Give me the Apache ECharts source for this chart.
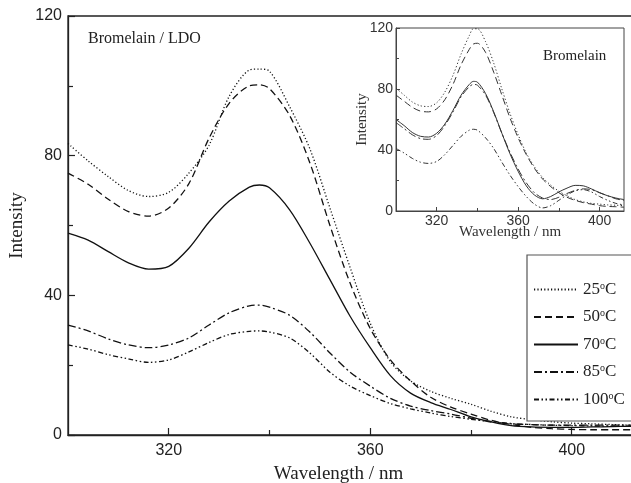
<!DOCTYPE html>
<html><head><meta charset="utf-8">
<script src="https://cdn.jsdelivr.net/npm/echarts@6/dist/echarts.min.js"></script>
<style>html,body{margin:0;padding:0;background:#fff}#c{width:631px;height:483px}</style>
</head><body><div id="c"></div>
<script>
// shared wavelength grid (nm)
const wavelengths = [300,304,308,312,316,320,324,328,332,336,338,340,344,348,352,356,360,364,368,372,376,380,384,388,392,396,400,404,408,412];

// main panel: Bromelain / LDO
const main25  = [83.5,78.5,74,70,68.3,69.5,75,83,97,104.5,104.8,104.2,94,82,65,48,32,21,15.5,12.5,10.5,8.8,6.8,5.2,4.4,3.8,3.4,3.2,3,2.8];
const main50  = [75,71.8,67.5,64,62.7,65,72,85,95,100,100.3,99.2,91.5,78,60,43.5,30.5,21.5,15.5,10.8,8,6,4.2,3,2.2,1.8,1.6,1.5,1.5,1.5];
const main70  = [57.8,55.8,52.5,49.3,47.5,48.3,53.5,61,67,71,71.6,70.8,64.5,55,44.5,34,25,17,12,9.3,7.3,5.2,3.8,2.7,2.3,2.2,2.2,2.3,2.4,2.5];
const main85  = [31.5,29.8,27.5,25.8,25,25.8,27.8,31.5,35,37,37.2,36.6,34.3,29.5,23.5,18,14,10.5,8.3,7,6,4.8,3.8,3.2,3,2.8,2.8,2.8,2.8,2.8];
const main100 = [25.8,24.6,23,21.8,20.8,21.5,23.8,26.5,28.8,29.7,29.8,29.5,27.8,23.5,18,14,11.3,9,7.5,6.3,5.3,4.5,3.8,3.3,3,2.8,2.7,2.6,2.5,2.5];

// inset: Bromelain
const inset25  = [80.5,76,71.5,69,68.5,71,78,89,103,115,119.5,119.5,111,97,80,64,50,38,29,22,17,13,10,7.5,6,5,4.5,4,3.8,3.5];
const inset50  = [76,72,68,65.5,65,67,73,83,96,106,109.5,110,104,91,76,61,48,37,28,21,16,12,9,7,5.5,4.5,3.5,3,2.8,2.5];
const inset70  = [60,56,51.5,49,48.5,51,57,66,76,83,85,84.5,77,65,51,37.5,26,16.5,10.5,8,9.5,12.5,15,16.8,16.5,14.5,12,10,8.5,7.5];
const inset85  = [58,54,50,47.5,47,49.5,56,65,75,81.5,83,82.5,76,64.5,51,38.5,27.5,18.5,12,8.5,7.5,9,11.5,13.5,14.5,14,12,10,8,7];
const inset100 = [41,38,34.5,32,31.2,32.5,37,43,49,53,53.6,53,48,41,32,23.5,16,9.5,4.5,2,3.5,7,10.5,13.2,14,12.5,9.5,7,5,4];

const seriesNames = ['25','50','70','85','100'];
const xMajorTicks = [320,360,400];
const xMinorTicks = [340,380];
const yTickInterval = 40;

const SANS = "'Liberation Sans', Arial, sans-serif";
const SERIF = "'Liberation Serif', 'Times New Roman', serif";

const dashTypes = [[1.2,2.2],[7,4],'solid',[8,3,2,3],[5,2.5,1.5,2.5,1.5,2.5]];
const mainData = [main25, main50, main70, main85, main100];
const insetData = [inset25, inset50, inset70, inset85, inset100];

const pairs = d => wavelengths.map((w,i)=>[w,d[i]]);

const series = [];
mainData.forEach((d,i)=>{
  series.push({type:'line', name:seriesNames[i], xAxisIndex:0, yAxisIndex:0, data:pairs(d),
    symbol:'none', smooth:0.3, silent:true,
    itemStyle:{color:'#111'},
    lineStyle:{color:'#111', width:1.3, type:dashTypes[i]}});
});
insetData.forEach((d,i)=>{
  series.push({type:'line', name:'inset'+seriesNames[i], xAxisIndex:2, yAxisIndex:1, data:pairs(d),
    symbol:'none', smooth:0.3, silent:true,
    itemStyle:{color:'#333'},
    lineStyle:{color:'#333', width:1, type:dashTypes[i]}});
});

const axisCol = '#222';
const option = {
  animation:false,
  backgroundColor:'#fff',
  textStyle:{fontFamily:SANS},
  grid:[
    {left:68, top:16, right:-3, bottom:48, show:true, borderColor:axisCol, borderWidth:1.3, backgroundColor:'#fff',
     containLabel:false, outerBoundsMode:'none'},
    {left:396, top:28, width:228, height:183, show:true, borderColor:'#444', borderWidth:1, backgroundColor:'#fff',
     containLabel:false, outerBoundsMode:'none'}
  ],
  xAxis:[
    {type:'value', gridIndex:0, min:300, max:412.36, position:'bottom',
     axisLine:{show:true, lineStyle:{color:axisCol, width:1.3}},
     axisTick:{show:true, inside:true, length:7, customValues:xMajorTicks, lineStyle:{color:axisCol, width:1.2}},
     axisLabel:{customValues:xMajorTicks, fontSize:16, color:'#222', margin:8, fontFamily:SANS},
     splitLine:{show:false},
     name:'Wavelength / nm', nameLocation:'middle', nameGap:30, nameMoveOverlap:false,
     nameTextStyle:{fontFamily:SERIF, fontSize:19, color:'#222', padding:[0,25,0,0]}},
    {type:'value', gridIndex:0, min:300, max:412.36, position:'bottom',
     axisLine:{show:false},
     axisTick:{show:true, inside:true, length:5, customValues:xMinorTicks, lineStyle:{color:axisCol, width:1.2}},
     axisLabel:{show:false}, splitLine:{show:false}},
    {type:'value', gridIndex:1, min:300, max:412, position:'bottom',
     axisLine:{show:true, lineStyle:{color:'#444', width:1}},
     axisTick:{show:true, inside:true, length:4, customValues:xMajorTicks, lineStyle:{color:'#444'}},
     axisLabel:{customValues:xMajorTicks, fontSize:14, color:'#333', margin:3, fontFamily:SANS},
     splitLine:{show:false},
     name:'Wavelength / nm', nameLocation:'middle', nameGap:14, nameMoveOverlap:false,
     nameTextStyle:{fontFamily:SERIF, fontSize:15, color:'#333'}},
    {type:'value', gridIndex:1, min:300, max:412, position:'bottom',
     axisLine:{show:false},
     axisTick:{show:true, inside:true, length:3, customValues:xMinorTicks, lineStyle:{color:'#444'}},
     axisLabel:{show:false}, splitLine:{show:false}}
  ],
  yAxis:[
    {type:'value', gridIndex:0, min:0, max:120, interval:yTickInterval,
     axisLine:{show:true, lineStyle:{color:axisCol, width:1.3}},
     axisTick:{show:true, inside:true, length:7, lineStyle:{color:axisCol, width:1.2}},
     minorTick:{show:true, splitNumber:2, length:5, lineStyle:{color:axisCol, width:1.2}},
     axisLabel:{fontSize:16, color:'#222', margin:6, fontFamily:SANS},
     splitLine:{show:false},
     name:'Intensity', nameLocation:'middle', nameGap:41, nameMoveOverlap:false,
     nameTextStyle:{fontFamily:SERIF, fontSize:19, color:'#222'}},
    {type:'value', gridIndex:1, min:0, max:120, interval:yTickInterval,
     axisLine:{show:true, lineStyle:{color:'#444', width:1}},
     axisTick:{show:true, inside:true, length:4, lineStyle:{color:'#444'}},
     minorTick:{show:true, splitNumber:2, length:3, lineStyle:{color:'#444'}},
     axisLabel:{fontSize:14, color:'#333', margin:3, fontFamily:SANS},
     splitLine:{show:false},
     name:'Intensity', nameLocation:'middle', nameGap:26, nameMoveOverlap:false,
     nameTextStyle:{fontFamily:SERIF, fontSize:15, color:'#333'}}
  ],
  legend:{
    data:seriesNames, orient:'vertical', left:527, top:255,
    padding:[26,22,13,6], itemGap:10.5, itemWidth:44, itemHeight:12,
    backgroundColor:'#fff', borderColor:'#555', borderWidth:1.2, borderRadius:0,
    selectedMode:false,
    itemStyle:{color:'rgba(0,0,0,0)', borderWidth:0, opacity:0},
    formatter: n => n + '{s|o}C',
    textStyle:{fontFamily:SERIF, fontSize:17, color:'#222', lineHeight:17,
      rich:{s:{fontFamily:SERIF, fontSize:10, verticalAlign:'top', lineHeight:17, color:'#222'}}}
  },
  graphic:[
    {type:'text', left:88, top:31, style:{text:'Bromelain / LDO', font:'16px '+SERIF, fill:'#222'}},
    {type:'text', left:543, top:49, style:{text:'Bromelain', font:'15px '+SERIF, fill:'#222'}}
  ],
  series:series
};
const chart = echarts.init(document.getElementById('c'), null, {renderer:'canvas'});
chart.setOption(option);
</script></body></html>
